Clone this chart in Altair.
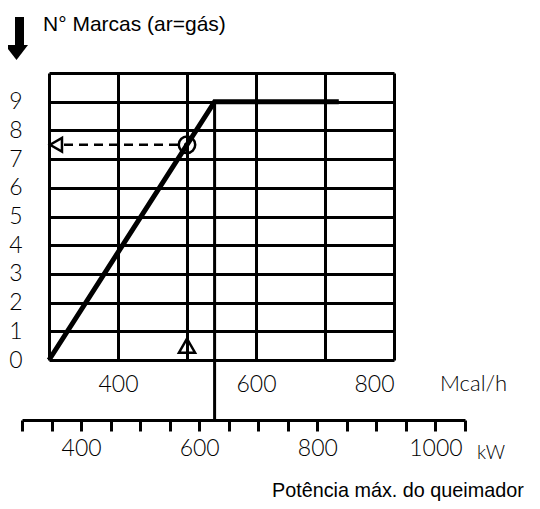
import altair as alt
import pandas as pd

# ---- data ----
curve_mcal = [300, 540, 720]          # Mcal/h
curve_marks = [0, 9, 9]               # N° marcas
grid_mcal = [300, 400, 500, 600, 700, 800]
mcal_labels = [400, 600, 800]
mark_ticks = [0, 1, 2, 3, 4, 5, 6, 7, 8, 9, 10]
mark_labels = [0, 1, 2, 3, 4, 5, 6, 7, 8, 9]
kw_ticks = [300, 350, 400, 450, 500, 550, 600, 650, 700, 750, 800, 850, 900, 950, 1000, 1050]
kw_labels = [400, 600, 800, 1000]
max_mcal = [540]                      # vertical line to the kW axis
max_marks = [9]
example_mcal = [500]                  # worked example
example_marks = [7.5]
start_mcal = [300]
up_marker_marks = [0.5]

title_text = "N° Marcas (ar=gás)"
mcal_unit = "Mcal/h"
kw_unit = "kW"
footer_text = "Potência máx. do queimador"

DIGIT_FONT = "Lato"
DIGIT_W = 300
TEXT_FONT = "Liberation Sans"
W, H = 345, 287

xs = alt.Scale(domain=[300, 800], nice=False, zero=False)
ys = alt.Scale(domain=[0, 10], nice=False, zero=False)


def in_list(vals):
    return "indexof([" + ",".join(str(v) for v in vals) + "], datum.value) >= 0 ? datum.value : ''"


AX = alt.Axis(values=grid_mcal, labelExpr=in_list(mcal_labels), grid=True, gridColor="black", gridWidth=3,
              gridOpacity=1, domain=False, ticks=False, labelFont=DIGIT_FONT, labelFontWeight=DIGIT_W,
              labelFontSize=23, labelColor="black", labelPadding=13, title=None)
AY = alt.Axis(values=mark_ticks, labelExpr=in_list(mark_labels), grid=True, gridColor="black", gridWidth=3,
              gridOpacity=1, domain=False, ticks=False, labelFont=DIGIT_FONT, labelFontWeight=DIGIT_W,
              labelFontSize=23, labelColor="black", labelPadding=27, title=None)

curve_df = pd.DataFrame({"mcal": curve_mcal, "marks": curve_marks})
curve = alt.Chart(curve_df).mark_line(color="black", strokeWidth=5, strokeCap="butt", strokeJoin="miter").encode(
    x=alt.X("mcal:Q", scale=xs, axis=AX),
    y=alt.Y("marks:Q", scale=ys, axis=AY),
)

vline_df = pd.DataFrame({"mcal": max_mcal, "marks": max_marks})
vline = alt.Chart(vline_df).mark_rule(color="black", strokeWidth=3).encode(
    x=alt.X("mcal:Q", scale=xs, axis=AX),
    y=alt.Y("marks:Q", scale=ys, axis=AY),
    y2=alt.value(H + 60),
)

dash_df = pd.DataFrame({"start": start_mcal, "mcal": example_mcal, "marks": example_marks})
dash = alt.Chart(dash_df).mark_rule(color="black", strokeWidth=2.5, strokeDash=[9, 6]).encode(
    x=alt.X("start:Q", scale=xs, axis=AX),
    x2="mcal:Q",
    y=alt.Y("marks:Q", scale=ys, axis=AY),
)
left_tri = alt.Chart(dash_df).mark_point(shape="triangle-left", filled=True, fill="white", stroke="black",
                                          strokeWidth=2.5, size=190, xOffset=7, opacity=1).encode(
    x=alt.X("start:Q", scale=xs, axis=AX),
    y=alt.Y("marks:Q", scale=ys, axis=AY),
)
circle = alt.Chart(dash_df).mark_point(shape="circle", filled=False, color="black", strokeWidth=2.5,
                                        size=270, opacity=1).encode(
    x=alt.X("mcal:Q", scale=xs, axis=AX),
    y=alt.Y("marks:Q", scale=ys, axis=AY),
)

up_df = pd.DataFrame({"mcal": example_mcal, "marks": up_marker_marks})
up_tri = alt.Chart(up_df).mark_point(shape="triangle-up", filled=False, color="black", strokeWidth=2.5,
                                      size=260, opacity=1).encode(
    x=alt.X("mcal:Q", scale=xs, axis=AX),
    y=alt.Y("marks:Q", scale=ys, axis=AY),
)

main = alt.layer(curve, vline, dash, circle, left_tri, up_tri)

kw_df = pd.DataFrame({"kw": kw_labels})
kw_layer = alt.Chart(kw_df).mark_point(opacity=0).encode(
    x=alt.X("kw:Q", scale=alt.Scale(domain=[300, 1050], range=[-27, 416], nice=False, zero=False),
            axis=alt.Axis(orient="bottom", offset=60, values=kw_ticks, labelExpr=in_list(kw_labels),
                          grid=False, domain=True, domainColor="black", domainWidth=3,
                          ticks=True, tickColor="black", tickWidth=3, tickSize=11,
                          labelFont=DIGIT_FONT, labelFontWeight=DIGIT_W, labelFontSize=23,
                          labelColor="black", labelPadding=6, title=None)),
    y=alt.value(0),
)

one = pd.DataFrame({"a": [1]})
arrow_bar = alt.Chart(one).mark_rule(color="black", strokeWidth=9, strokeCap="butt").encode(
    x=alt.value(-29.5), y=alt.value(-56), y2=alt.value(-27))
arrow_head = alt.Chart(one).mark_point(shape="M-1,-0.65 L1,-0.65 L0,0.65 Z", filled=True, color="black",
                                       size=529, opacity=1).encode(
    x=alt.value(-32.5), y=alt.value(-20.5))


def label(txt, x, y, size, font, weight="normal", baseline="alphabetic"):
    return alt.Chart(pd.DataFrame({"t": [txt]})).mark_text(
        align="left", baseline=baseline, font=font, fontSize=size, fontWeight=weight, color="black"
    ).encode(text="t:N", x=alt.value(x), y=alt.value(y))


title = label(title_text, -6, -42, 21, TEXT_FONT)
mcal_t = label(mcal_unit, 391, 311, 22, DIGIT_FONT, DIGIT_W, "middle")
kw_t = label(kw_unit, 428, 380, 19, DIGIT_FONT, DIGIT_W, "middle")
footer = label(footer_text, 223, 423.5, 19.8, TEXT_FONT)

chart = alt.layer(main, kw_layer, arrow_bar, arrow_head, title, mcal_t, kw_t, footer).resolve_scale(
    x="independent").properties(
    width=W, height=H,
    autosize=alt.AutoSizeParams(type="none"),
    padding={"left": 41, "top": 65, "right": 138, "bottom": 141},
).configure_view(strokeWidth=0).configure(background="white")

chart.save("out.html", embed_options={"renderer": "svg", "actions": False})
